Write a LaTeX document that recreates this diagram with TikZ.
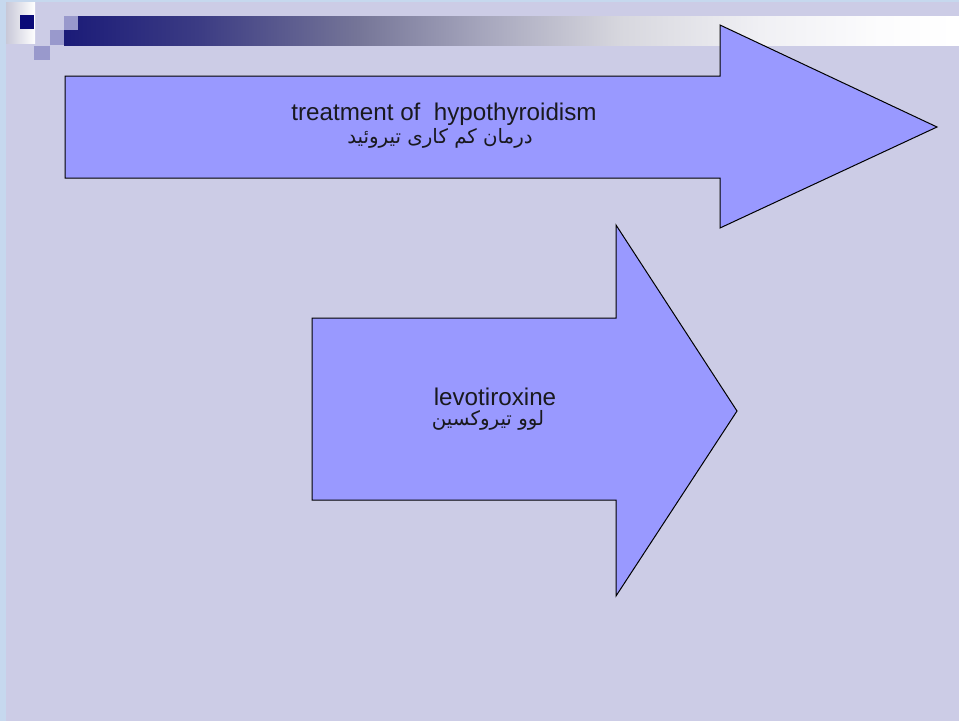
\documentclass[tikz,border=0pt]{standalone}
\usepackage{fontspec}
\setmainfont{Liberation Sans}
\newfontfamily\arabicfont[Script=Arabic]{DejaVu Sans}
\TeXXeTstate=1

\definecolor{outerblue}{RGB}{198,216,238}
\definecolor{slidebg}{RGB}{204,204,230}
\definecolor{fadegrey}{RGB}{200,200,216}
\definecolor{navysq}{RGB}{10,10,120}
\definecolor{lilacsq}{RGB}{153,153,204}
\definecolor{arrowfill}{RGB}{153,153,255}
\definecolor{textdark}{RGB}{25,25,30}
\definecolor{barA}{RGB}{27,27,120}
\definecolor{barB}{RGB}{60,60,132}
\definecolor{barC}{RGB}{118,118,152}
\definecolor{barD}{RGB}{165,165,188}
\definecolor{barE}{RGB}{215,215,222}
\definecolor{barF}{RGB}{240,240,244}
\definecolor{barG}{RGB}{252,252,253}

\tikzset{
  bigarrow/.style={fill=arrowfill, draw=black, line width=1pt, line join=miter},
  latinlabel/.style={anchor=base, inner sep=0pt, text=textdark, font=\fontsize{24.2}{27}\selectfont},
  farsilabel/.style={anchor=base, inner sep=0pt, text=textdark, font=\arabicfont\fontsize{19.8}{22}\selectfont},
}

\begin{document}
\begin{tikzpicture}[x=1pt,y=-1pt]
\useasboundingbox (0,0) rectangle (959,721);

% slide frame and background
\fill[outerblue] (0,0) rectangle (959,721);
\fill[slidebg] (6,2) rectangle (959,721);

% header: faded corner block
\shade[left color=fadegrey, right color=white] (6,2) rectangle (35,43);

% header: gradient bar, drawn in pieces
\shade[left color=barA, right color=barB] (64,16) rectangle (200.5,45);
\shade[left color=barB, right color=barC] (200,16) rectangle (360.5,45);
\shade[left color=barC, right color=barD] (360,16) rectangle (480.5,45);
\shade[left color=barD, right color=barE] (480,16) rectangle (620.5,45);
\shade[left color=barE, right color=barF] (620,16) rectangle (760.5,45);
\shade[left color=barF, right color=barG] (760,16) rectangle (880.5,45);
\shade[left color=barG, right color=white] (880,16) rectangle (959,45);

% header: squares
\fill[navysq] (20,15) rectangle (34,29);
\fill[lilacsq] (64,16) rectangle (78,30);
\fill[lilacsq] (50,30) rectangle (64,45);
\fill[lilacsq] (34,46) rectangle (50,60);

% upper arrow
\draw[bigarrow] (65,76) -- (720,76) -- (720,25) -- (937,127) -- (720,228)
  -- (720,178) -- (65,178) -- cycle;
\node[latinlabel] (treat) at (444,120) {treatment of\ \ hypothyroidism};
\node[farsilabel] (treatfa) at (440,143) {\beginR درمان کم کاری تیروئید\endR};

% lower arrow
\draw[bigarrow] (312,318) -- (616,318) -- (616,225) -- (737,411) -- (616,596)
  -- (616,500) -- (312,500) -- cycle;
\node[latinlabel] (levo) at (495,405) {levotiroxine};
\node[farsilabel] (levofa) at (488,425) {\beginR لوو تیروکسین\endR};

\end{tikzpicture}
\end{document}
